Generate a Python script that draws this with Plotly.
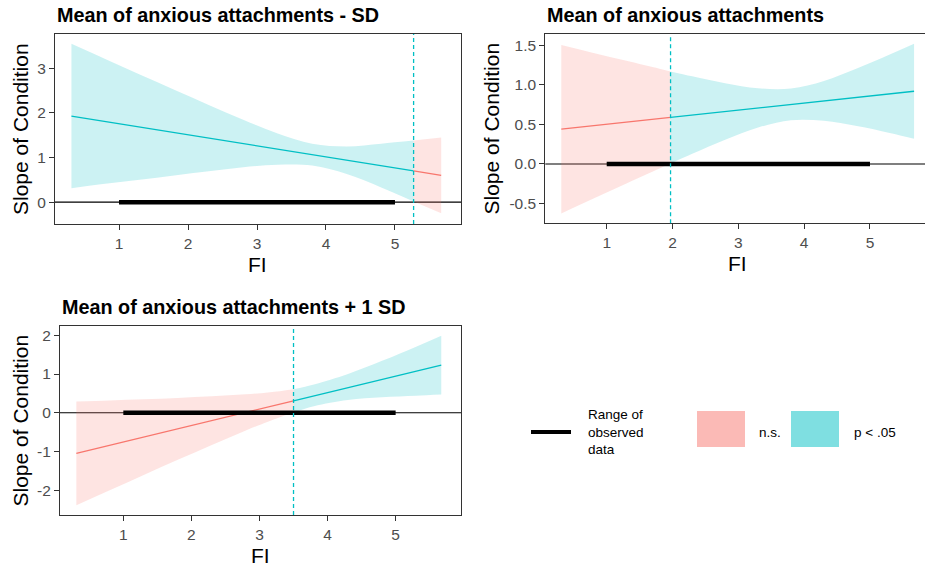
import plotly.graph_objects as go

W, H = 925, 569

titles = ["Mean of anxious attachments - SD",
          "Mean of anxious attachments",
          "Mean of anxious attachments + 1 SD"]

# Johnson-Neyman boundaries
jn = [5.27, 1.97, 3.50]
# observed range of FI
obs_range = [1.0, 5.0]

# Panel 1: Mean - SD
fi_1 = [0.31, 0.8, 1.3, 1.8, 2.3, 2.8, 3.3, 3.8, 4.3, 4.8, 5.27, 5.67]
est_1 = [1.93, 1.808, 1.684, 1.560, 1.436, 1.312, 1.188, 1.064, 0.940, 0.816, 0.699, 0.600]
lo_1 = [0.31, 0.41, 0.50, 0.60, 0.69, 0.78, 0.84, 0.82, 0.63, 0.33, 0.016, -0.25]
hi_1 = [3.55, 3.21, 2.86, 2.52, 2.18, 1.85, 1.54, 1.31, 1.25, 1.31, 1.38, 1.45]

# Panel 2: Mean
fi_2 = [0.31, 0.8, 1.3, 1.8, 1.97, 2.3, 2.8, 3.3, 3.8, 4.3, 4.8, 5.3, 5.67]
est_2 = [0.44, 0.484, 0.529, 0.574, 0.589, 0.619, 0.664, 0.709, 0.754, 0.798, 0.843, 0.888, 0.92]
lo_2 = [-0.625, -0.437, -0.246, -0.057, 0.007, 0.129, 0.306, 0.461, 0.554, 0.546, 0.479, 0.392, 0.32]
hi_2 = [1.505, 1.405, 1.304, 1.205, 1.171, 1.109, 1.022, 0.957, 0.954, 1.050, 1.207, 1.384, 1.52]

# Panel 3: Mean + 1 SD
fi_3 = [0.31, 0.8, 1.3, 1.8, 2.3, 2.8, 3.3, 3.5, 3.8, 4.3, 4.8, 5.3, 5.67]
est_3 = [-1.05, -0.842, -0.629, -0.416, -0.203, 0.010, 0.222, 0.307, 0.435, 0.648, 0.861, 1.073, 1.23]
lo_3 = [-2.39, -2.003, -1.608, -1.216, -0.830, -0.456, -0.113, 0.007, 0.17, 0.33, 0.40, 0.44, 0.47]
hi_3 = [0.29, 0.319, 0.350, 0.384, 0.424, 0.476, 0.557, 0.607, 0.73, 1.00, 1.34, 1.706, 1.99]

# which side of JN is significant
sig_right = [False, True, True]

y_ticks = [[0, 1, 2, 3], [-0.5, 0.0, 0.5, 1.0, 1.5], [-2, -1, 0, 1, 2]]
y_ticktext = [["0", "1", "2", "3"], ["-0.5", "0.0", "0.5", "1.0", "1.5"], ["-2", "-1", "0", "1", "2"]]
x_ticks = [1, 2, 3, 4, 5]

legend_labels = ["Range of<br>observed<br>data", "n.s.", "p < .05"]

RED = "#F8766D"
CYAN = "#00BFC4"
RED_FILL = "rgba(248,118,109,0.2)"
CYAN_FILL = "rgba(0,191,196,0.2)"

FONT = "Liberation Sans, Arial, sans-serif"

# layout geometry (pixels)
px_dom = [(55, 461, 34, 224), (545.3, 925, 34.3, 223.3), (60, 461, 326, 515)]
x_ranges = [[0.072, 5.957], [0.067, 5.836], [0.07, 5.96]]
y_ranges = [[-0.49, 3.77], [-0.75, 1.64], [-2.64, 2.24]]

panels = [(fi_1, est_1, lo_1, hi_1), (fi_2, est_2, lo_2, hi_2), (fi_3, est_3, lo_3, hi_3)]

fig = go.Figure()

for i, (fi, est, lo, hi) in enumerate(panels):
    xa = "x" if i == 0 else f"x{i+1}"
    ya = "y" if i == 0 else f"y{i+1}"
    b = jn[i]
    left_idx = [k for k, v in enumerate(fi) if v <= b + 1e-9]
    right_idx = [k for k, v in enumerate(fi) if v >= b - 1e-9]
    segs = [(left_idx, sig_right[i] is False), (right_idx, sig_right[i])]
    for idx, is_sig in segs:
        fcol = CYAN_FILL if is_sig else RED_FILL
        xs = [fi[k] for k in idx]
        fig.add_trace(go.Scatter(x=xs, y=[lo[k] for k in idx], mode="lines",
                                 line=dict(width=0, shape="spline", color=fcol),
                                 xaxis=xa, yaxis=ya, showlegend=False, hoverinfo="skip"))
        fig.add_trace(go.Scatter(x=xs, y=[hi[k] for k in idx], mode="lines",
                                 line=dict(width=0, shape="spline", color=fcol),
                                 fill="tonexty", fillcolor=fcol,
                                 xaxis=xa, yaxis=ya, showlegend=False, hoverinfo="skip"))
    for idx, is_sig in segs:
        col = CYAN if is_sig else RED
        xs = [fi[k] for k in idx]
        fig.add_trace(go.Scatter(x=xs, y=[est[k] for k in idx], mode="lines",
                                 line=dict(width=1.3, color=col),
                                 xaxis=xa, yaxis=ya, showlegend=False))
    # range of observed data
    fig.add_trace(go.Scatter(x=obs_range, y=[0, 0], mode="lines",
                             line=dict(width=4.5, color="black"),
                             xaxis=xa, yaxis=ya, showlegend=False))
    # zero line
    fig.add_shape(type="line", xref=f"{xa} domain", yref=ya, x0=0, x1=1, y0=0, y1=0,
                  line=dict(color="black", width=1.1), layer="below")
    # JN line
    fig.add_shape(type="line", xref=xa, yref=f"{ya} domain", x0=b, x1=b, y0=0, y1=1,
                  line=dict(color=CYAN, width=1.3, dash="4px,3px"))

layout = dict(width=W, height=H, margin=dict(l=0, r=0, t=0, b=0),
              plot_bgcolor="white", paper_bgcolor="white", showlegend=False,
              font=dict(family=FONT))

annotations = []
for i in range(3):
    x0, x1, y0, y1 = px_dom[i]
    suf = "" if i == 0 else str(i + 1)
    axis_common = dict(showline=True, linecolor="#333333", linewidth=1.2, mirror=True,
                       ticks="outside", ticklen=5, tickcolor="#333333", tickwidth=1.1,
                       tickfont=dict(family=FONT, size=15.5, color="#4D4D4D"),
                       showgrid=False, zeroline=False)
    layout[f"xaxis{suf}"] = dict(domain=[x0 / W, x1 / W], range=x_ranges[i],
                                 anchor=f"y{suf}", tickvals=x_ticks, **axis_common)
    layout[f"yaxis{suf}"] = dict(domain=[1 - y1 / H, 1 - y0 / H], range=y_ranges[i],
                                 anchor=f"x{suf}", tickvals=y_ticks[i], ticktext=y_ticktext[i],
                                 **axis_common)
    # title
    annotations.append(dict(text=f"<b>{titles[i]}</b>", xref="paper", yref="paper",
                            x=x0 / W, y=1 - (y0 - 19) / H, xanchor="left", yanchor="middle",
                            showarrow=False, font=dict(family=FONT, size=19.8, color="black")))
    # y title
    ytx = [20, 491.7, 20][i]
    annotations.append(dict(text="Slope of Condition", xref="paper", yref="paper",
                            x=ytx / W, y=1 - ((y0 + y1) / 2) / H, textangle=-90,
                            xanchor="center", yanchor="middle", showarrow=False,
                            font=dict(family=FONT, size=21, color="black")))
    # x title
    xtx = [257, 737, 260][i]
    annotations.append(dict(text="FI", xref="paper", yref="paper",
                            x=xtx / W, y=1 - (y1 + 40) / H, xanchor="center", yanchor="middle",
                            showarrow=False, font=dict(family=FONT, size=21, color="black")))

# legend
shapes_leg = [
    dict(type="line", xref="paper", yref="paper", x0=531 / W, x1=571 / W,
         y0=1 - 432 / H, y1=1 - 432 / H, line=dict(color="black", width=4)),
    dict(type="rect", xref="paper", yref="paper", x0=697 / W, x1=745 / W,
         y0=1 - 447 / H, y1=1 - 411 / H, fillcolor="rgba(248,118,109,0.5)", line=dict(width=0)),
    dict(type="rect", xref="paper", yref="paper", x0=791 / W, x1=839 / W,
         y0=1 - 447 / H, y1=1 - 411 / H, fillcolor="rgba(0,191,196,0.5)", line=dict(width=0)),
]
for s in shapes_leg:
    fig.add_shape(**s)
for lbl, lx in zip(legend_labels, [586, 757, 851.5]):
    annotations.append(dict(text=lbl, xref="paper", yref="paper", x=lx / W, y=1 - 432 / H,
                            xanchor="left", yanchor="middle", align="left", showarrow=False,
                            font=dict(family=FONT, size=13.5, color="black")))

layout["annotations"] = annotations
fig.update_layout(**layout)
fig.write_html("out.html")
